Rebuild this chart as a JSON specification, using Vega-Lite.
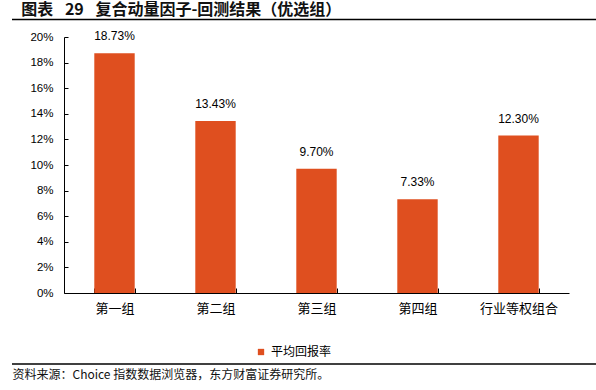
{
  "$schema": "https://vega.github.io/schema/vega-lite/v6.json",
  "autosize": "none",
  "width": 584,
  "height": 256,
  "padding": {"left": 12, "right": 0, "top": 37, "bottom": 97},
  "background": "white",
  "config": {
    "view": {"stroke": null},
    "font": "Noto Sans CJK SC"
  },
  "title": {"text": "图表 \u200229 \u2002复合动量因子-回测结果（优选组）", "anchor": "start", "orient": "top", "offset": 1, "dx": 10, "fontSize": 16, "fontWeight": "bold", "font": "Noto Sans CJK SC", "color": "#111111"},
  "data": {"values": [
    {"组别": "第一组", "平均回报率": 0.1873},
    {"组别": "第二组", "平均回报率": 0.1343},
    {"组别": "第三组", "平均回报率": 0.0970},
    {"组别": "第四组", "平均回报率": 0.0733},
    {"组别": "行业等权组合", "平均回报率": 0.1230}
  ]},
  "resolve": {"scale": {"x": "independent", "y": "independent"}, "axis": {"x": "independent", "y": "independent"}},
  "layer": [
    {
      "encoding": {
        "x": {
          "field": "组别", "type": "nominal", "sort": null,
          "scale": {"paddingInner": 0.6, "paddingOuter": 0.3, "range": [52, 557]},
          "axis": {"title": null, "labelAngle": 0, "domainColor": "#000000", "tickColor": "#000000", "tickBand": "extent", "tickSize": -5, "labelPadding": 14, "labelFontSize": 13, "labelColor": "#000000", "labelFont": "Noto Sans CJK SC"}
        },
        "y": {
          "field": "平均回报率", "type": "quantitative",
          "scale": {"domain": [0, 0.2], "nice": false},
          "axis": {"title": null, "offset": -52, "format": ".0%", "values": [0, 0.02, 0.04, 0.06, 0.08, 0.1, 0.12, 0.14, 0.16, 0.18, 0.2], "labelOverlap": false, "grid": false, "domainColor": "#000000", "tickColor": "#000000", "tickSize": -4, "labelPadding": 15, "labelFont": "Liberation Sans", "labelFontSize": 11.5, "labelColor": "#000000"}
        }
      },
      "layer": [
        {
          "mark": {"type": "bar"},
          "encoding": {
            "color": {"datum": "平均回报率", "type": "nominal", "scale": {"range": ["#DF4F1F"]},
              "legend": {"title": null, "orient": "none", "legendX": 243, "legendY": 309, "symbolType": "square", "symbolSize": 40, "symbolStrokeWidth": 0, "labelFontSize": 12, "labelFont": "Noto Sans CJK SC", "labelColor": "#000000"}}
          }
        },
        {
          "mark": {"type": "text", "baseline": "bottom", "dy": -10, "font": "Liberation Sans", "fontSize": 12, "color": "#000000"},
          "encoding": {"text": {"field": "平均回报率", "type": "quantitative", "format": ".2%"}}
        }
      ]
    },
    {
      "data": {"values": [{"线": "标题线"}]},
      "mark": {"type": "rule", "color": "#000000", "strokeWidth": 1.5},
      "encoding": {
        "x": {"datum": 0, "type": "quantitative", "scale": {"domain": [0, 1]}, "axis": null},
        "x2": {"datum": 1},
        "y": {"datum": 0.21367, "type": "quantitative", "scale": {"domain": [0, 0.2], "nice": false}, "axis": null}
      }
    },
    {
      "data": {"values": [{"线": "来源线"}]},
      "mark": {"type": "rule", "color": "#000000", "strokeWidth": 1.5},
      "encoding": {
        "x": {"datum": 0, "type": "quantitative", "scale": {"domain": [0, 1]},
          "axis": {"orient": "bottom", "offset": 71, "title": "资料来源：Choice 指数数据浏览器，东方财富证券研究所。", "titleAnchor": "start", "titleAlign": "left", "titlePadding": 5, "titleFontSize": 12, "titleFontWeight": "normal", "titleFont": "Noto Sans CJK SC", "titleColor": "#111111", "labels": false, "ticks": false, "grid": false, "domain": false}},
        "x2": {"datum": 1},
        "y": {"datum": -0.05547, "type": "quantitative", "scale": {"domain": [0, 0.2], "nice": false}, "axis": null}
      }
    }
  ]
}
